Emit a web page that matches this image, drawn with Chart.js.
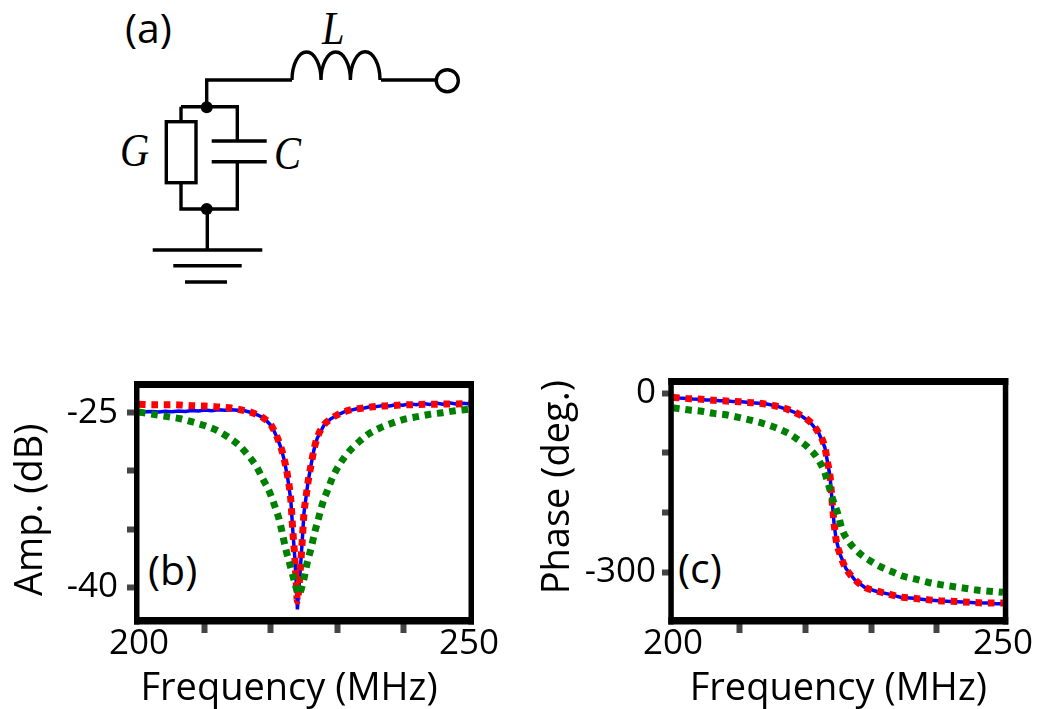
<!DOCTYPE html>
<html><head><meta charset="utf-8">
<style>
html,body{margin:0;padding:0;background:#fff;width:1037px;height:709px;overflow:hidden}
canvas{position:absolute}
svg{position:absolute;left:0;top:0}
.t{position:absolute;font-family:"Open Sans";font-size:41px;color:#000;line-height:1;white-space:pre}
.m{position:absolute;font-family:"Liberation Serif";font-style:italic;font-size:46px;color:#000;line-height:1;transform:scaleX(.88);transform-origin:left top}
</style>
<script src="https://cdn.jsdelivr.net/npm/chart.js@4/dist/chart.umd.min.js"></script>
</head><body>
<svg width="1037" height="360" fill="none" stroke="#000" stroke-width="3.4">
<path d="M206.7 107V80H292"/>
<path d="M292 80A14.5 28 0 0 1 321 80A14.7 28 0 0 1 350.4 80A14.7 28 0 0 1 380 80"/>
<path d="M381 80H436"/>
<circle cx="447.3" cy="80.7" r="11"/>
<path d="M181 106.7H237.3V140M211.7 141H266.7M211.7 161.7H266.7M237.3 161.7V209H181V182.7M181 106.7V121.7"/>
<rect x="166.3" y="121.7" width="29.7" height="61"/>
<path d="M207.3 209V250M152.7 250H262.3M173.3 265.7H241.7M185 282H227"/>
<circle cx="206.7" cy="107.3" r="6" fill="#000" stroke="none"/>
<circle cx="206.7" cy="209" r="6" fill="#000" stroke="none"/>
</svg>
<div class="t" style="left:125px;top:7px">(a)</div>
<div class="m" style="left:322px;top:6px">L</div>
<div class="m" style="left:120px;top:128px">G</div>
<div class="m" style="left:274px;top:131px">C</div>
<div class="t" style="left:148px;top:549px">(b)</div>
<div class="t" style="left:678px;top:547px">(c)</div>
<canvas id="cb" width="510" height="349" style="left:0;top:360px"></canvas>
<canvas id="cc" width="507" height="349" style="left:530px;top:360px"></canvas>
<script>
const xTicks=[200,210,220,230,240,250];
const ampTicks=[-25,-30,-35,-40];
const phaseTicks=[0,-100,-200,-300];

const ampBlueF=[200,201,202,203,204,205,206,207,208,209,210,211,212,213,214,215,216,217,218,219,220,220.5,221,221.5,222,222.5,223,223.3,223.6,223.8,224,224.2,224.4,224.7,225,225.3,225.6,226,226.5,227,228,229,230,231,232,233,234,235,236,237,238,239,240,241,242,243,244,245,246,247,248,249,250];
const ampBlueV=[-24.88,-24.92,-24.9,-24.95,-24.88,-24.93,-24.85,-24.9,-24.82,-24.86,-24.78,-24.83,-24.76,-24.8,-24.74,-24.8,-24.84,-24.98,-25.2,-25.5,-26.1,-26.62,-27.25,-28,-29.05,-30.5,-32.5,-35.1,-37.4,-39.4,-41.9,-40.3,-38.8,-36.3,-33.6,-32.3,-31,-29.7,-28.2,-27.2,-26.1,-25.55,-25.22,-24.95,-24.8,-24.66,-24.62,-24.5,-24.48,-24.38,-24.42,-24.3,-24.36,-24.24,-24.32,-24.2,-24.3,-24.18,-24.28,-24.16,-24.26,-24.2,-24.24];

const ampRedF=[200,202,205,208,210,212,214,215,216,217,218,219,220,220.5,221,221.5,222,222.5,223,223.3,223.6,223.8,224,224.2,224.4,224.7,225,225.3,225.6,226,226.5,227,228,229,230,232,234,236,238,240,244,248,250];
const ampRedV=[-24.28,-24.31,-24.31,-24.4,-24.43,-24.51,-24.6,-24.71,-24.83,-24.97,-25.2,-25.52,-26.06,-26.58,-27.2,-27.98,-29,-30.4,-32.5,-35.1,-37.4,-39.4,-41.2,-40.2,-38.8,-36.3,-33.6,-32.3,-31,-29.7,-28.2,-27.15,-26.06,-25.57,-25.2,-24.77,-24.6,-24.46,-24.4,-24.34,-24.28,-24.25,-24.23];

const ampGreenF=[200,200.56,202.4,204.3,206.3,208.1,210,211.8,213.5,215.1,216.5,217.8,218.8,219.8,220.6,221.3,221.8,222.3,222.9,223.5,224.2,225,225.5,226.1,226.6,227.2,227.8,228.6,229.4,230.5,231.8,233.3,234.8,236.6,238.4,240.4,242.2,244.1,246,247.9,250];
const ampGreenV=[-24.95,-25,-25.17,-25.34,-25.52,-25.8,-26.12,-26.52,-27.09,-27.78,-28.64,-29.64,-30.73,-31.84,-33.08,-34.31,-35.6,-36.86,-38.12,-39.38,-40.6,-39.23,-37.86,-36.6,-35.34,-34.08,-32.82,-31.62,-30.47,-29.35,-28.35,-27.52,-26.83,-26.29,-25.89,-25.54,-25.34,-25.14,-25,-24.83,-24.7];

const phaseBlueF=[200,201,202,203,204,205,206,207,208,209,210,212,214,215.6,217.4,219.1,220.8,222.1,223,223.4,223.8,224,224.2,224.4,224.7,225.3,226.2,227.5,229.1,230.9,232.7,234.6,236.5,238.3,240.2,242.1,243.9,245.8,247.7,249,250];
const phaseBlueV=[-7,-8.5,-9,-10,-10.4,-11.5,-11.8,-12.8,-13,-14.2,-14.4,-16.5,-18,-21.5,-27.8,-35.5,-49,-67.2,-90.8,-115,-140,-167,-193,-218,-245,-270,-294,-312.5,-326,-332.5,-337,-342.5,-344,-346.5,-348,-349.5,-350,-351.5,-352,-353,-353];

const phaseRedF=[200,200.6,202.5,204.4,206.3,208.1,210,211.9,213.7,215.6,217.4,219.1,220.8,222.1,223,223.4,223.8,224,224.2,224.4,224.7,225.3,226.2,227.5,229.1,230.9,232.7,234.6,236.5,238.3,240.2,242.1,243.9,245.8,247.7,250];
const phaseRedV=[-7.4,-7.8,-9.5,-10.6,-12.3,-13.4,-14.5,-16.2,-17.9,-21.8,-27.4,-35.8,-48.6,-67.6,-90.5,-115,-140,-167,-193,-218,-245,-270,-294,-312,-326,-332,-337,-342,-344,-346,-348,-349,-350,-351,-352,-352];

const phaseGreenF=[200,200.6,202.5,204.4,206.2,208,209.9,211.7,213.6,215.4,217.2,218.8,220.4,221.8,222.9,223.6,224.2,225,225.6,226.7,228.1,229.7,231.4,233.1,234.9,236.8,238.6,240.5,242.3,244.2,246,247.9,250];
const phaseGreenV=[-25,-25.7,-28.5,-30.7,-34.1,-36.5,-40.8,-45.3,-50.8,-57.5,-65.9,-77.1,-90.5,-108,-131,-155,-178,-203,-228,-250,-267,-280,-291,-299,-307,-312,-317,-321,-324,-327,-330,-332,-334];

const FONT='"Open Sans"';
const zip=(f,v)=>f.map((x,i)=>({x,y:v[i]}));
const frame={id:'frame',afterDatasetsDraw(c){
  const a=c.chartArea,g=c.ctx;g.save();g.fillStyle='#000';
  const L=a.left-3,R=a.right+3,T=a.top-3.5,B=a.bottom+3.5;
  g.fillRect(L,T,R-L,7);g.fillRect(L,B-7.5,R-L,7.5);g.fillRect(L,T,5.5,B-T);g.fillRect(R-5.5,T,5.5,B-T);
  g.restore();}};
// nudges an axis title along its axis, and stops tick labels from enlarging the plot margins
function fit(s,size,a,b,d){
  s[size]=size==='height'?88:s._yw;
  s[a]=0;s[b]=0;
  if(!s._shifted){
    s._shifted=true;
    const base=s.drawTitle;
    s.drawTitle=function(){
      const p=size==='height'?['left','right']:['top','bottom'];
      const u=this[p[0]],v=this[p[1]];
      this[p[0]]+=d;this[p[1]]+=d;
      base.call(this);
      this[p[0]]=u;this[p[1]]=v;
    };
  }
}
function make(id,o){
  return new Chart(document.getElementById(id),{
    type:'line',
    data:{datasets:[
      {data:zip(o.gf,o.gv),borderColor:'#008000',borderWidth:7,borderDash:[6.6,5.8],pointRadius:0,cubicInterpolationMode:'monotone'},
      {data:zip(o.rf,o.rv),borderColor:'#ff0000',borderWidth:7,borderDash:[6.6,5.8],pointRadius:0,cubicInterpolationMode:'monotone'},
      {data:zip(o.bf,o.bv),borderColor:'#0000ff',borderWidth:3.5,pointRadius:0,tension:0}
    ]},
    plugins:[frame],
    options:{
      responsive:false,animation:false,devicePixelRatio:1,
      layout:{padding:o.pad},
      plugins:{legend:{display:false},tooltip:{enabled:false}},
      scales:{
        x:{type:'linear',min:o.xmin,max:o.xmax,
          afterBuildTicks:s=>{s.ticks=xTicks.map(value=>({value}))},
          afterFit:s=>fit(s,'height','paddingLeft','paddingRight',o.xs),
          border:{display:false},
          grid:{drawOnChartArea:false,drawTicks:true,tickLength:12,tickWidth:6,
            tickColor:c=>(c.tick&&(c.tick.value===200||c.tick.value===250))?'rgba(0,0,0,0)':'#444'},
          ticks:{maxRotation:0,autoSkip:false,padding:-10,color:'#000',font:{family:FONT,size:35},
            callback:v=>(v===200||v===250)?String(v):''},
          title:{display:true,text:'Frequency (MHz)',color:'#000',font:{family:FONT,size:38},padding:{top:0,bottom:-3}}
        },
        y:{type:'linear',min:o.ymin,max:o.ymax,
          afterBuildTicks:s=>{s.ticks=o.yt.map(value=>({value}))},
          afterFit:s=>{s._yw=o.yw;fit(s,'width','paddingTop','paddingBottom',o.ys)},
          border:{display:false},
          grid:{drawOnChartArea:false,drawTicks:true,tickLength:o.ytl,tickWidth:6,tickColor:'#444'},
          ticks:{padding:o.ypad,color:'#000',font:{family:FONT,size:35},autoSkip:false,
            callback:v=>o.yl.includes(v)?String(v):''},
          title:{display:true,text:o.ytitle,color:'#000',font:{family:FONT,size:38},padding:{top:o.ytp,bottom:0}}
        }
      }
    }
  });
}
make('cb',{bf:ampBlueF,bv:ampBlueV,rf:ampRedF,rv:ampRedV,gf:ampGreenF,gv:ampGreenV,
  xmin:199.7,xmax:250.3,ymin:-42.9,ymax:-22.58,yt:ampTicks,yl:[-25,-40],ytitle:'Amp. (dB)',
  pad:{top:24.5,right:39,left:0,bottom:0},yw:137,ytl:10,ypad:9,ytp:8,xs:-15,ys:7});
make('cc',{bf:phaseBlueF,bv:phaseBlueV,rf:phaseRedF,rv:phaseRedV,gf:phaseGreenF,gv:phaseGreenV,
  xmin:199.74,xmax:250.35,ymin:-382,ymax:19.3,yt:phaseTicks,yl:[0,-300],ytitle:'Phase (deg.)',
  pad:{top:21.5,right:31.7,left:0,bottom:0},yw:141.3,ytl:9.3,ypad:6,ytp:5,xs:0,ys:-14});
</script>
</body></html>
